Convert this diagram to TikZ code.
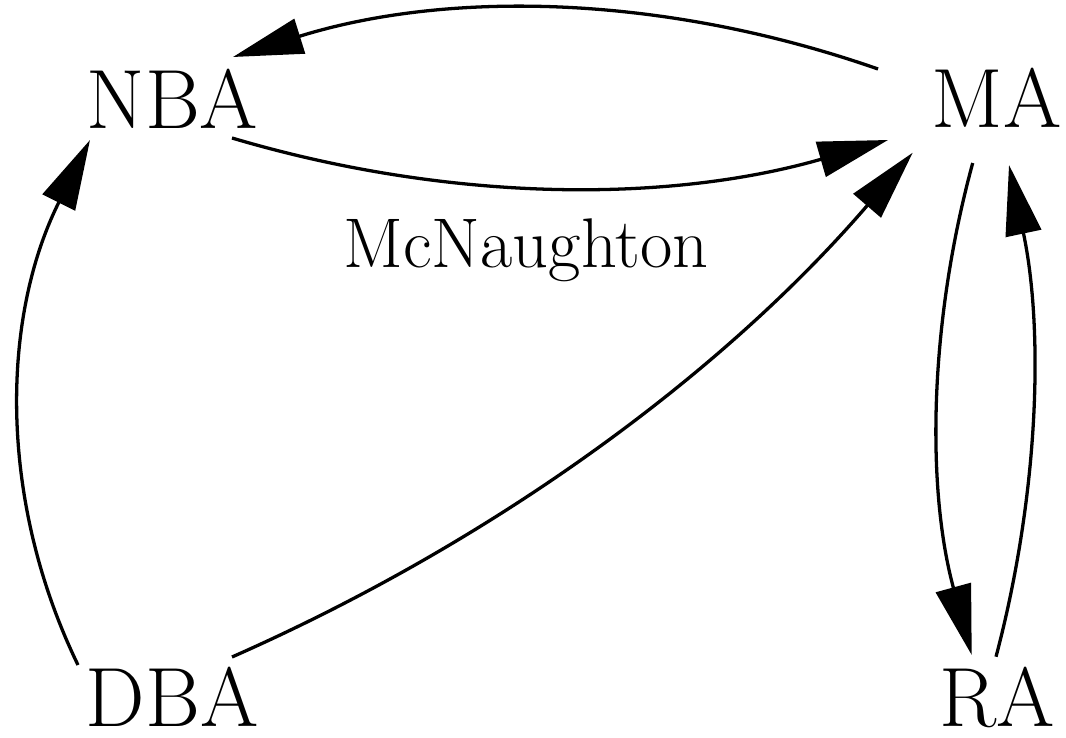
\documentclass[tikz,border=0pt]{standalone}
\usetikzlibrary{arrows.meta}
\begin{document}
\begin{tikzpicture}[x=0.32pt,y=-0.32pt,
  lbl/.style={anchor=base,inner sep=0pt,font=\fontsize{26.9}{30}\selectfont},
  small/.style={anchor=base,inner sep=0pt,font=\fontsize{22.5}{26}\selectfont},
  arr/.style={line width=1.05pt,-{Triangle[length=22.4pt,width=11.5pt]}}]
\useasboundingbox (0,0) rectangle (1066,738);
\node[lbl] (nba) at (172.5,129) {NBA};
\node[lbl] (ma) at (996.5,128) {MA};
\node[lbl] (dba) at (172,726) {DBA};
\node[lbl] (ra) at (997,726) {RA};
\node[small] (mcn) at (526,268) {McNaughton};
% MA -> NBA (top)
\draw[arr] ([shift={(-118.5,-59)}]ma.base) .. controls (663,-6) and (448,-10) .. ([shift={(60.5,-72)}]nba.base);
% NBA -> MA (bottom)
\draw[arr] ([shift={(59.5,9)}]nba.base) .. controls (451,203) and (669,203) .. ([shift={(-108.5,12)}]ma.base);
% DBA -> NBA
\draw[arr] ([shift={(-94,-61)}]dba.base) .. controls (-2,500) and (1,318) .. ([shift={(-82.5,11)}]nba.base);
% DBA -> MA
\draw[arr] ([shift={(60,-69)}]dba.base) .. controls (497,540) and (724,372) .. ([shift={(-83.8,24.7)}]ma.base);
% MA -> RA
\draw[arr] ([shift={(-23.8,35)}]ma.base) .. controls (928,327) and (927,491) .. ([shift={(-25.3,-71)}]ra.base);
% RA -> MA
\draw[arr] ([shift={(-1,-69.3)}]ra.base) .. controls (1039.3,492.7) and (1043.7,328.9) .. ([shift={(12.5,37)}]ma.base);
\end{tikzpicture}
\end{document}
